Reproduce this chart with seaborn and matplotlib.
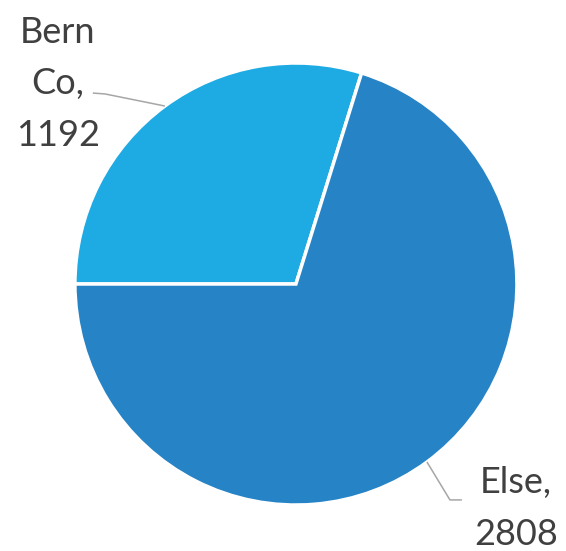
import numpy as np
import matplotlib
matplotlib.use("Agg")
import matplotlib.pyplot as plt
import seaborn as sns

# data
labels = ["Bern Co", "Else"]
label_text = ["Bern\nCo,\n1192", "Else,\n2808"]
values = [1192, 2808]

sns.set_theme(style="white")
plt.rcParams['font.family'] = ['Lato', 'DejaVu Sans']

colors = sns.color_palette(["#1EAAE2", "#2683C6"])

fig = plt.figure(figsize=(5.66, 5.51), dpi=100)
ax = fig.add_axes([0, 0, 1, 1])
wedges, _ = ax.pie(values, colors=colors, startangle=180, counterclock=False,
                   radius=1, wedgeprops=dict(edgecolor="white", linewidth=2.5))
ax.set_xlim(-1.339, 1.222)
ax.set_ylim(-1.208, 1.285)
ax.set_aspect("equal")
ax.axis("off")

# label placement: (elbow, line end, text position)
layout = [((-0.864, 0.860), (-0.919, 0.864), (-1.077, 0.905)),
          ((0.697, -0.977), (0.751, -0.977), (0.995, -1.015))]

for w, txt, (elbow, end, pos) in zip(wedges, label_text, layout):
    mid = np.deg2rad((w.theta1 + w.theta2) / 2)
    anchor = (np.cos(mid), np.sin(mid))
    ax.plot([anchor[0], elbow[0], end[0]], [anchor[1], elbow[1], end[1]],
            color="#A6A6A6", linewidth=1.1, solid_capstyle="butt")
    ax.text(pos[0], pos[1], txt, ha="center", va="center", fontsize=26,
            color="#404040", linespacing=1.7, multialignment="center")

fig.savefig("out.png", dpi=100)
